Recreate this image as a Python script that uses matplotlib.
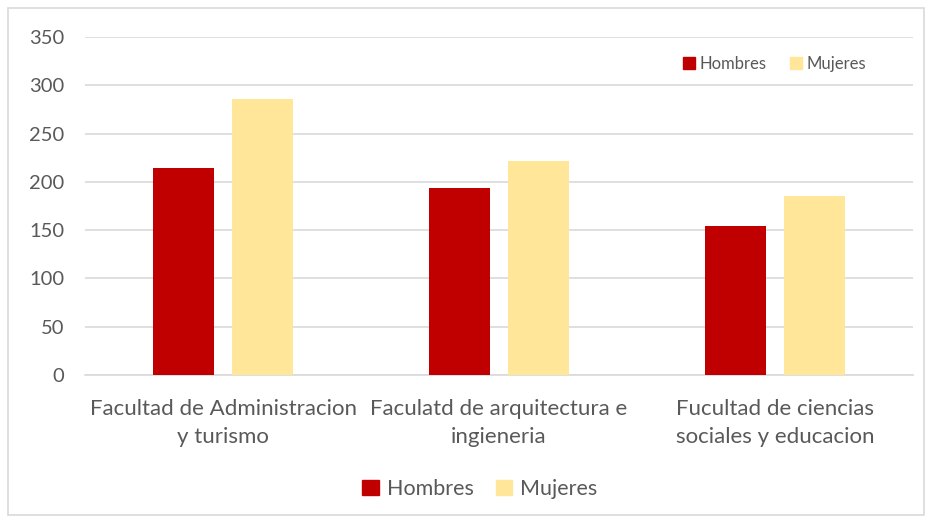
import numpy as np
import matplotlib.pyplot as plt
from matplotlib.patches import Rectangle, Patch

categories = ["Facultad de Administracion\ny turismo",
              "Faculatd de arquitectura e\ningieneria",
              "Fucultad de ciencias\nsociales y educacion"]
hombres = [214, 194, 154]
mujeres = [286, 222, 185]
series_names = ["Hombres", "Mujeres"]
colors = ["#C00000", "#FFE699"]
yticks = [0, 50, 100, 150, 200, 250, 300, 350]

plt.rcParams['font.family'] = ['Lato', 'DejaVu Sans']

fig = plt.figure(figsize=(9.3, 5.2), dpi=100)
ax = fig.add_axes([85/930, 1 - 375/520, (913-85)/930, (375-37)/520])

x = np.arange(len(categories))
w = 0.221
gap = 0.065
ax.bar(x - (w + gap)/2, hombres, w, color=colors[0], zorder=3)
ax.bar(x + (w + gap)/2, mujeres, w, color=colors[1], zorder=3)

ax.set_xlim(-0.5, 2.5)
ax.set_ylim(0, 350)
ax.set_yticks(yticks)
ax.yaxis.grid(True, color="#D9D9D9", lw=1.2, zorder=0)
ax.set_axisbelow(True)
for s in ["top", "right", "left"]:
    ax.spines[s].set_visible(False)
ax.spines["bottom"].set_color("#D9D9D9")
ax.spines["bottom"].set_linewidth(1.2)
ax.tick_params(axis="y", length=0, labelsize=14.5, colors="#595959", pad=15)
ax.tick_params(axis="x", length=0, labelsize=16, colors="#595959", pad=17)
ax.set_xticks(x)
ax.set_xticklabels(categories, linespacing=1.5)

handles = [Patch(color=c) for c in colors]
# small legend inside the plot
ax.legend(handles, series_names, loc="center right", bbox_to_anchor=(0.962, 0.92),
          frameon=False, ncol=2, fontsize=12, handlelength=0.7, handleheight=0.7,
          handletextpad=0.3, columnspacing=1.4, labelcolor="#595959")
# bottom legend
fig.legend(handles, series_names, loc="center", bbox_to_anchor=(480/930, 1 - 489/520),
           frameon=False, ncol=2, fontsize=15.5, handlelength=0.75, handleheight=0.75,
           handletextpad=0.4, columnspacing=1.0, labelcolor="#595959")

fig.patches.append(Rectangle((8/930, 5/520), 916/930, 507/520, transform=fig.transFigure,
                             fill=False, edgecolor="#D9D9D9", lw=1.2))

fig.savefig("out.png", dpi=100)
